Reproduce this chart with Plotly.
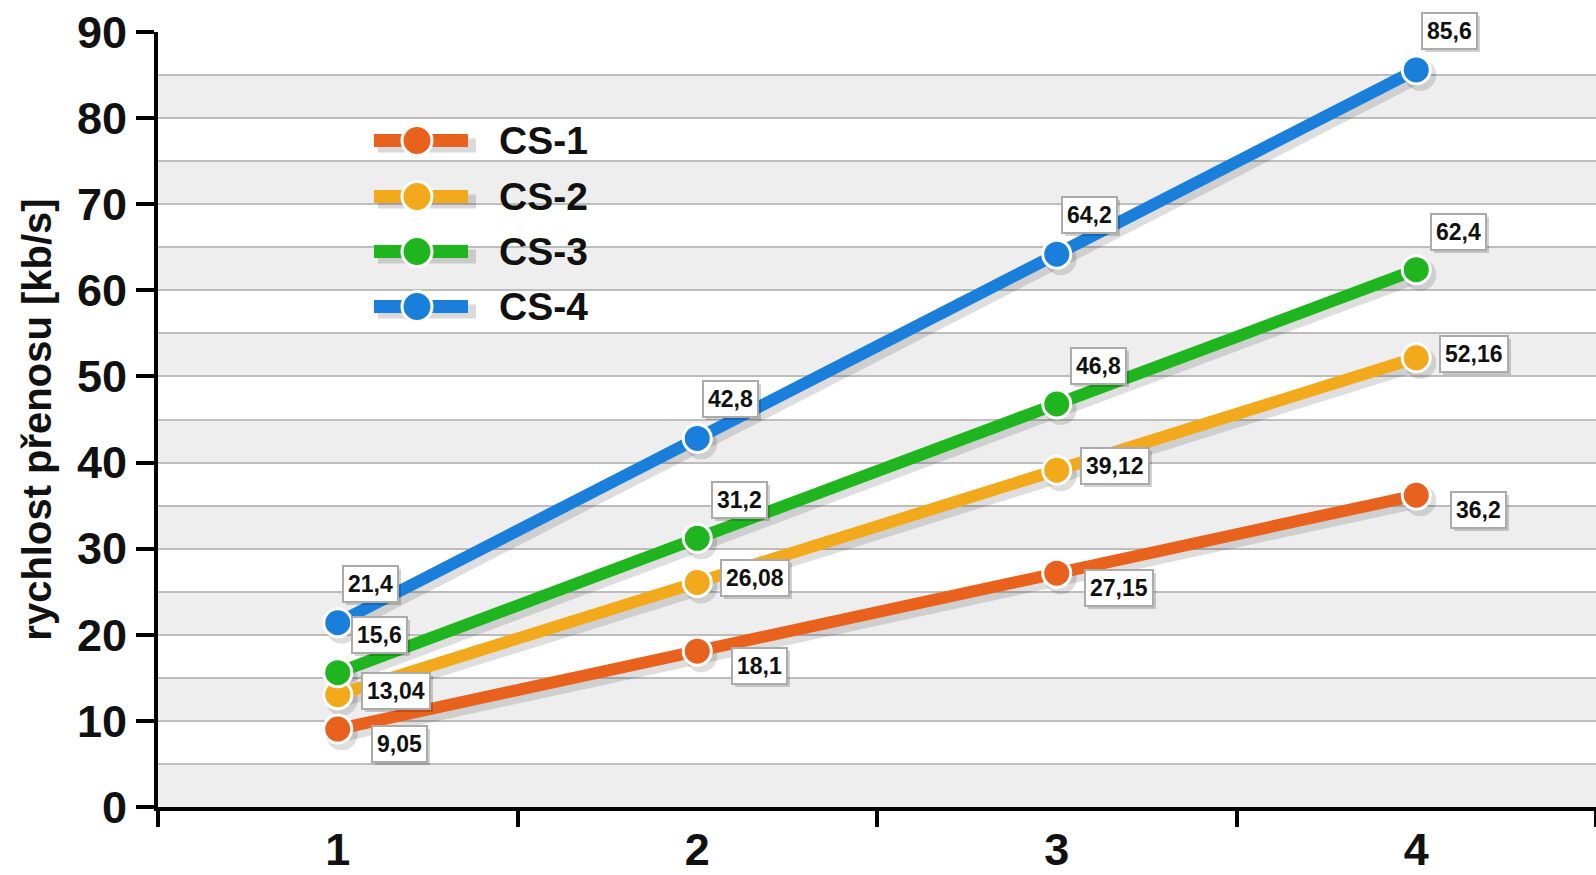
import plotly.graph_objects as go

# ---- data -------------------------------------------------------------
categories = [1, 2, 3, 4]
tick_labels = ["1", "2", "3", "4"]
series_names = ["CS-1", "CS-2", "CS-3", "CS-4"]
cs1 = [9.05, 18.1, 27.15, 36.2]
cs2 = [13.04, 26.08, 39.12, 52.16]
cs3 = [15.6, 31.2, 46.8, 62.4]
cs4 = [21.4, 42.8, 64.2, 85.6]
series_values = [cs1, cs2, cs3, cs4]

# ---- styling ----------------------------------------------------------
colors = ["#E8621E", "#F2AA1C", "#1EB51E", "#1A7FDB"]
label_shift = [(62, -15), (58, 4), (42, 38), (33, 39)]  # px offset of value boxes
FONT = "Liberation Sans, Arial, sans-serif"

W, H = 1596, 875
M_L, M_R, M_T, M_B = 158, 0, 32, 68
Y_MIN, Y_MAX = 0, 90
X_MIN, X_MAX = categories[0] - 0.5, categories[-1] + 0.5
px_per_x = (W - M_L - M_R) / (X_MAX - X_MIN)
px_per_y = (H - M_T - M_B) / (Y_MAX - Y_MIN)

fig = go.Figure()

# soft drop shadows under the lines
sdx, sdy = 4 / px_per_x, -5 / px_per_y
for vals in series_values:
    fig.add_trace(go.Scatter(
        x=[c + sdx for c in categories], y=[v + sdy for v in vals],
        mode="lines+markers", hoverinfo="skip", showlegend=False,
        line=dict(color="rgba(0,0,0,0.13)", width=15),
        marker=dict(size=32, color="rgba(0,0,0,0.13)"),
    ))

# series
for name, vals, col in zip(series_names, series_values, colors):
    fig.add_trace(go.Scatter(
        x=categories, y=vals, name=name, mode="lines+markers",
        line=dict(color=col, width=12),
        marker=dict(size=28, color=col, line=dict(color="white", width=3)),
        showlegend=False,
    ))

# value boxes
annotations = []
for vals, (dx, dy) in zip(series_values, label_shift):
    for c, v in zip(categories, vals):
        txt = f"{v:g}".replace(".", ",")
        annotations.append(dict(
            x=c, y=v, xref="x", yref="y", text=txt, showarrow=False,
            xshift=dx + 3, yshift=dy - 3,
            font=dict(family=FONT, size=23, color="rgba(0,0,0,0)", weight="bold"),
            bgcolor="rgba(0,0,0,0.18)", bordercolor="rgba(0,0,0,0)",
            borderwidth=2, borderpad=4,
        ))
        annotations.append(dict(
            x=c, y=v, xref="x", yref="y", text=txt, showarrow=False,
            xshift=dx, yshift=dy,
            font=dict(family=FONT, size=23, color="#111111", weight="bold"),
            bgcolor="white", bordercolor="#ABABAB", borderwidth=2, borderpad=4,
        ))

# alternating background bands
shapes = []
for lo in range(Y_MIN, Y_MAX, 10):
    shapes.append(dict(type="rect", xref="paper", yref="y", x0=0, x1=1,
                       y0=lo, y1=lo + 5, fillcolor="#EEEEEE",
                       line=dict(width=0), layer="below"))

# legend key drawn in paper space
def to_px_x(px):
    return (px - M_L) / (W - M_L - M_R)

def to_px_y(py):
    return (H - M_B - py) / (H - M_T - M_B)

legend_rows = [140.5, 196.5, 251.5, 306.5]
for name, col, row in zip(series_names, colors, legend_rows):
    yy = to_px_y(row)
    shapes.append(dict(type="line", xref="paper", yref="paper",
                       x0=to_px_x(378), x1=to_px_x(476), y0=to_px_y(row + 5), y1=to_px_y(row + 5),
                       line=dict(color="rgba(0,0,0,0.15)", width=14), layer="above"))
    shapes.append(dict(type="line", xref="paper", yref="paper",
                       x0=to_px_x(374), x1=to_px_x(468), y0=yy, y1=yy,
                       line=dict(color=col, width=13), layer="above"))
    shapes.append(dict(type="circle", xref="paper", yref="paper",
                       xsizemode="pixel", ysizemode="pixel",
                       xanchor=to_px_x(417), yanchor=yy,
                       x0=-15, x1=15, y0=-15, y1=15,
                       fillcolor=col, line=dict(color="white", width=3), layer="above"))
    annotations.append(dict(
        x=to_px_x(497), y=yy, xref="paper", yref="paper", text=name,
        showarrow=False, xanchor="left", yanchor="middle",
        font=dict(family=FONT, size=39, color="#111111", weight="bold"),
    ))

fig.update_layout(
    width=W, height=H,
    margin=dict(l=M_L, r=M_R, t=M_T, b=M_B),
    paper_bgcolor="white", plot_bgcolor="white",
    showlegend=False,
    shapes=shapes, annotations=annotations,
    xaxis=dict(
        range=[X_MIN, X_MAX], tickvals=categories, ticktext=tick_labels,
        ticks="", showgrid=False, zeroline=False,
        showline=True, linecolor="black", linewidth=4,
        tickfont=dict(family=FONT, size=45, color="#111111", weight="bold"),
        minor=dict(tick0=0.5, dtick=1, ticks="outside", ticklen=16,
                   tickwidth=4, tickcolor="black", showgrid=False),
    ),
    yaxis=dict(
        range=[Y_MIN, Y_MAX], tick0=0, dtick=10,
        showgrid=True, gridcolor="#BDBDBD", gridwidth=2, zeroline=False,
        showline=True, linecolor="black", linewidth=4,
        ticks="outside", ticklen=18, tickwidth=4, tickcolor="black",
        tickfont=dict(family=FONT, size=45, color="#111111", weight="bold"),
        minor=dict(dtick=5, showgrid=True, gridcolor="#BDBDBD", gridwidth=2),
        title=dict(text="rychlost přenosu [kb/s]", standoff=14,
                   font=dict(family=FONT, size=40, color="#111111", weight="bold")),
    ),
)

fig.write_html("out.html")
